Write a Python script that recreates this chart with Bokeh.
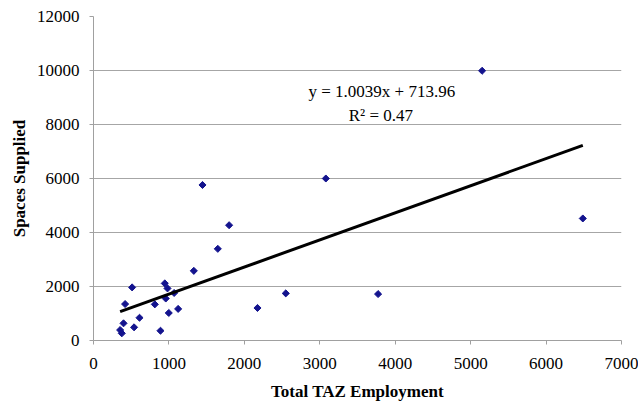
from bokeh.plotting import figure
from bokeh.models import ColumnDataSource, SingleIntervalTicker, Range1d
from bokeh.core.properties import value
from bokeh.embed import file_html
from bokeh.resources import INLINE
import math

# Employment (x) and parking spaces supplied (y) per TAZ
employment = [5152, 6487, 3080, 3773, 2549, 2174, 1445, 1798, 1648, 1330,
              945, 981, 958, 1069, 813, 1122, 998, 512, 419, 610,
              538, 398, 353, 375, 888]
spaces = [9990, 4520, 6000, 1720, 1745, 1205, 5760, 4270, 3395, 2580,
          2115, 1930, 1555, 1760, 1339, 1170, 1020, 1967, 1350, 843,
          488, 636, 388, 266, 362]

# Linear trend reported for the data
slope = 1.0039
intercept = 713.96
r_squared = 0.47
eq_label = "y = 1.0039x + 713.96"
r2_label = "R\u00b2 = 0.47"

SERIF = "Liberation Serif"

p = figure(width=638, height=404, output_backend="svg", toolbar_location=None,
           x_range=Range1d(0, 7000), y_range=Range1d(0, 12000),
           min_border_left=93, min_border_right=17, min_border_top=16,
           min_border_bottom=64)
p.outline_line_color = None
p.background_fill_color = "white"
p.border_fill_color = "white"

p.xgrid.grid_line_color = None
p.ygrid.grid_line_color = "#a6a6a6"
p.ygrid.grid_line_width = 1

p.xaxis.ticker = SingleIntervalTicker(interval=1000, num_minor_ticks=0)
p.yaxis.ticker = SingleIntervalTicker(interval=2000, num_minor_ticks=0)

for ax in (p.xaxis[0], p.yaxis[0]):
    ax.axis_line_color = "#a0a0a0"
    ax.major_tick_line_color = "#a0a0a0"
    ax.major_tick_out = 4
    ax.major_tick_in = 0
    ax.minor_tick_line_color = None
    ax.major_label_text_font = SERIF
    ax.major_label_text_font_size = "17px"
    ax.major_label_text_color = "black"
    ax.axis_label_text_font = SERIF
    ax.axis_label_text_font_size = "17px"
    ax.axis_label_text_font_style = "bold"
    ax.axis_label_text_color = "black"

p.xaxis.axis_label = "Total TAZ Employment"
p.yaxis.axis_label = "Spaces Supplied"
p.xaxis.major_label_standoff = 13
p.yaxis.major_label_standoff = 10
p.xaxis.axis_label_standoff = 10
p.yaxis.axis_label_standoff = 5

src = ColumnDataSource(dict(x=employment, y=spaces))
p.scatter("x", "y", source=src, marker="square", size=5, angle=math.pi / 4,
          fill_color="#13138e", line_color="#13138e", line_width=1)

# Trend line across the observed employment range
x0, x1 = min(employment), max(employment)
p.line([x0, x1], [slope * x0 + intercept, slope * x1 + intercept],
       line_color="black", line_width=3)

p.text(x=[3822], y=[9227], text=[eq_label], text_font=value(SERIF),
       text_font_size="17px", text_align="center", text_baseline="middle",
       text_color="black")
p.text(x=[3810], y=[8340], text=[r2_label], text_font=value(SERIF),
       text_font_size="17px", text_align="center", text_baseline="middle",
       text_color="black")

open("out.html", "w").write(file_html(p, INLINE))
